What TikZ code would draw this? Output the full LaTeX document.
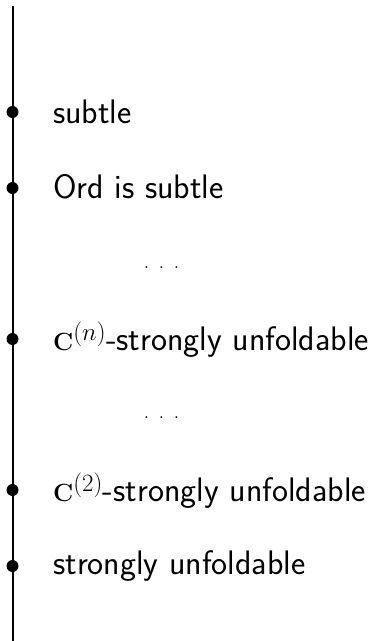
\documentclass[tikz,border=0pt]{standalone}
\usepackage{amsmath}
\begin{document}
\begin{tikzpicture}[x=1pt,y=-1pt,
  dotmark/.style={circle,fill=black,inner sep=0pt,minimum size=12pt},
  lbl/.style={anchor=base west,inner sep=0pt,font=\fontsize{34}{40}\selectfont\sffamily},
  dts/.style={anchor=base west,inner sep=0pt,font=\fontsize{23}{28}\selectfont\rmfamily}]
\useasboundingbox (0,0) rectangle (377,641);
\coordinate (top) at (12.5,6);
\coordinate (bot) at (12.5,645);
\draw[line width=2pt] (top) -- (bot);
\node[dotmark] (b1) at (12.5,112) {};
\node[dotmark] (b2) at (12.5,188) {};
\node[dotmark] (b3) at (12.5,339) {};
\node[dotmark] (b4) at (12.5,490) {};
\node[dotmark] (b5) at (12.5,566) {};
\node[lbl] (t1) at (53,123) {subtle};
\node[lbl] (t2) at (53,198) {Ord is subtle};
\node[dts] (d1) at (143.5,268) {. . .};
\node[lbl] (t3) at (53,350) {$\mathbf{C}^{(n)}$-strongly unfoldable};
\node[dts] (d2) at (143.5,418) {. . .};
\node[lbl] (t4) at (53,501) {$\mathbf{C}^{(2)}$-strongly unfoldable};
\node[lbl] (t5) at (53,574) {strongly unfoldable};
\end{tikzpicture}
\end{document}
